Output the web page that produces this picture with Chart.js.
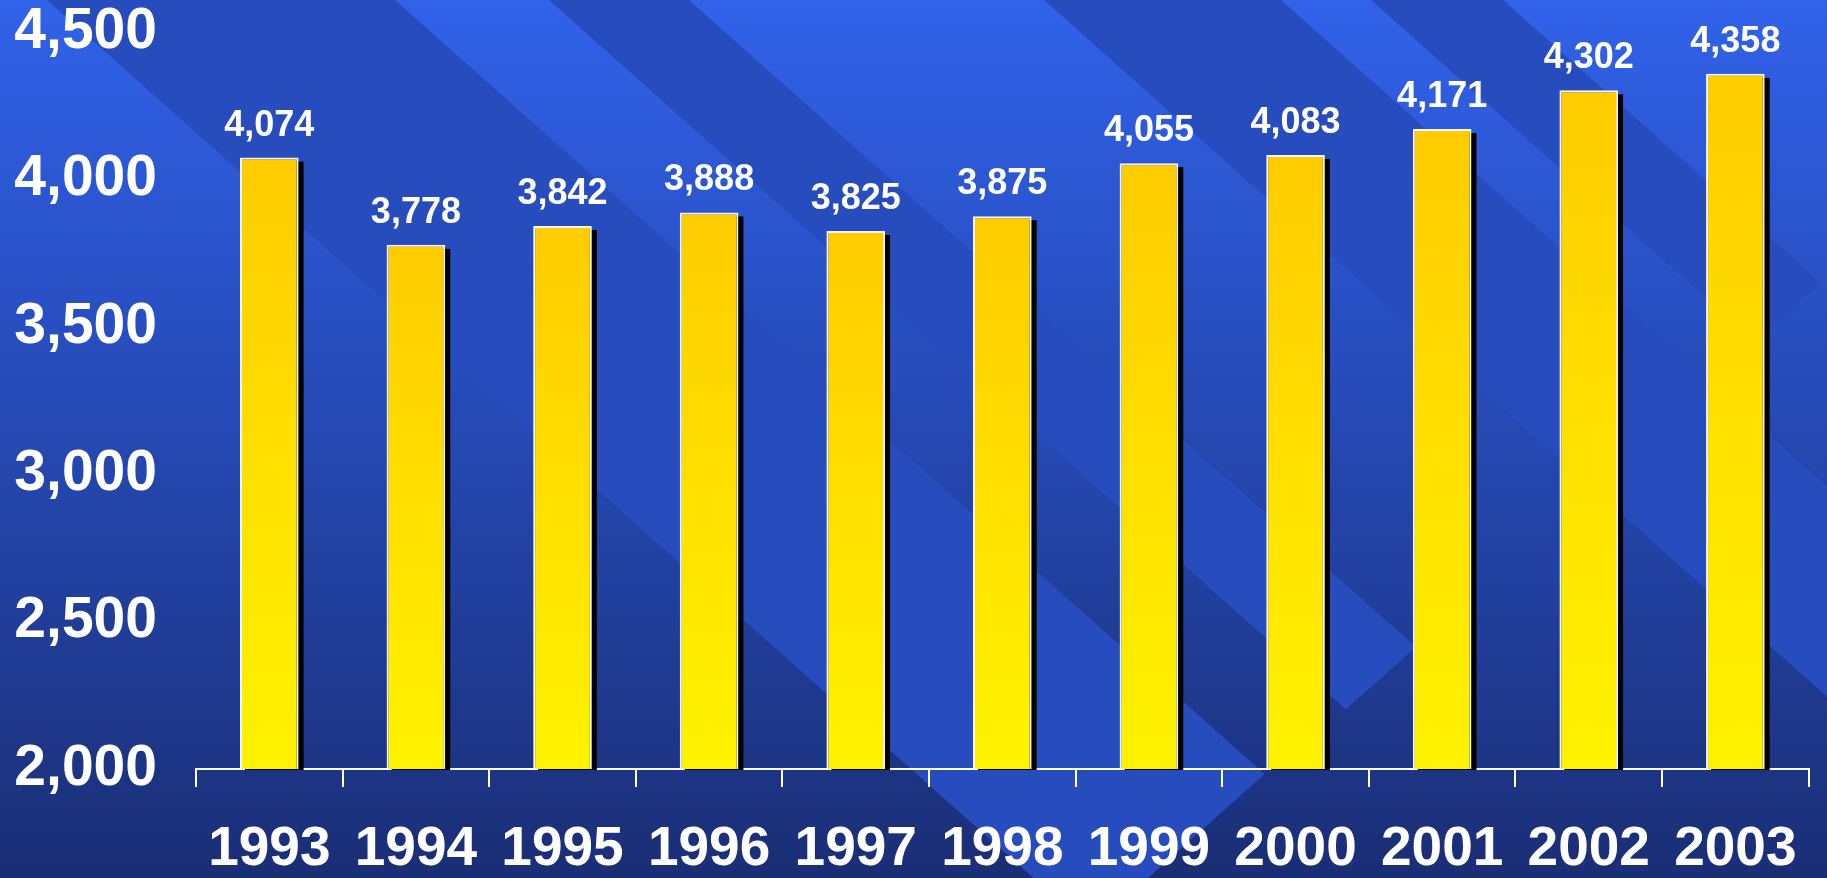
<!DOCTYPE html>
<html>
<head>
<meta charset="utf-8">
<script src="https://cdn.jsdelivr.net/npm/chart.js@4"></script>
<style>
  html, body { margin: 0; padding: 0; background: #1a2e76; }
  #wrap { width: 1827px; height: 878px; }
</style>
</head>
<body>
<div id="wrap"><canvas id="c" width="1827" height="878"></canvas></div>
<script>
const years = ['1993','1994','1995','1996','1997','1998','1999','2000','2001','2002','2003'];
const values = [4074, 3778, 3842, 3888, 3825, 3875, 4055, 4083, 4171, 4302, 4358];
const yMin = 2000;
const yMax = 4500;
const yStep = 500;

const FONT = 'Liberation Sans, Arial, Helvetica, sans-serif';

// Decorative background: vertical gradient with diagonal chevron bands
const bgPlugin = {
  id: 'bg',
  beforeDraw(chart) {
    const c = chart.ctx, W = chart.width, H = chart.height;
    c.save();
    const g = c.createLinearGradient(0, 0, 0, H);
    g.addColorStop(0, '#3162ea');
    g.addColorStop(0.5, '#2548b2');
    g.addColorStop(1, '#1a2e75');
    c.fillStyle = g;
    c.fillRect(0, 0, W, H);
    const m = 0.89;
    const bands = [
      {a: 47, b: 395, ty: 774},
      {a: 549, b: 689, ty: 647},
      {a: 1044, b: 1281, ty: 3000},
      {a: 1371, b: 1503, ty: 283}
    ];
    c.fillStyle = '#274cbe';
    bands.forEach(bd => {
      const y0 = -20;
      const tx = bd.b + bd.ty / m;
      const lx = (bd.a + bd.ty / m + tx) / 2;
      const ly = bd.ty - m * (lx - tx);
      c.beginPath();
      c.moveTo(bd.a + y0 / m, y0);
      c.lineTo(bd.b + y0 / m, y0);
      c.lineTo(tx, bd.ty);
      c.lineTo(lx, ly);
      c.closePath();
      c.fill();
    });
    c.restore();
  }
};

// Bar drop shadows
const shadowPlugin = {
  id: 'barShadow',
  beforeDatasetsDraw(chart) {
    const c = chart.ctx;
    const meta = chart.getDatasetMeta(0);
    const bottom = chart.scales.y.getPixelForValue(yMin);
    c.save();
    c.fillStyle = '#000000';
    meta.data.forEach(bar => {
      const p = bar.getProps(['x', 'y', 'width'], true);
      c.fillRect(p.x - p.width / 2 + 5, p.y + 4, p.width, bottom - p.y - 3);
    });
    c.restore();
  }
};

// Value labels above bars
const valueLabelPlugin = {
  id: 'valueLabels',
  afterDatasetsDraw(chart) {
    const c = chart.ctx;
    const meta = chart.getDatasetMeta(0);
    const ds = chart.data.datasets[0].data;
    c.save();
    c.fillStyle = '#ffffff';
    c.font = 'bold 36px ' + FONT;
    c.textAlign = 'center';
    c.textBaseline = 'alphabetic';
    meta.data.forEach((bar, i) => {
      const p = bar.getProps(['x', 'y'], true);
      c.fillText(ds[i].toLocaleString('en-US'), p.x, p.y - 22);
    });
    c.restore();
  }
};

new Chart(document.getElementById('c'), {
  type: 'bar',
  data: {
    labels: years,
    datasets: [{
      data: values,
      backgroundColor: (ctx) => {
        const chart = ctx.chart;
        if (!chart.chartArea || ctx.type !== 'data') return '#ffd800';
        const ys = chart.scales.y;
        const top = ys.getPixelForValue(ctx.raw);
        const bottom = ys.getPixelForValue(yMin);
        const g = chart.ctx.createLinearGradient(0, top, 0, bottom);
        g.addColorStop(0, '#ffcc00');
        g.addColorStop(1, '#fff300');
        return g;
      },
      borderColor: '#f4f4f4',
      borderWidth: 2,
      borderSkipped: 'bottom',
      categoryPercentage: 1.0,
      barPercentage: 0.40
    }]
  },
  options: {
    responsive: false,
    devicePixelRatio: 1,
    animation: false,
    layout: { padding: { left: 0, right: 10, top: 32, bottom: 0 } },
    plugins: {
      legend: { display: false },
      tooltip: { enabled: false },
      title: { display: false }
    },
    scales: {
      x: {
        grid: {
          display: true,
          drawOnChartArea: false,
          drawTicks: true,
          tickLength: 18,
          color: '#ffffff',
          lineWidth: 2,
          offset: true
        },
        border: { display: true, color: '#ffffff', width: 2 },
        ticks: {
          color: '#ffffff',
          font: { family: FONT, size: 55, weight: 'bold', lineHeight: 1.2 },
          padding: 30,
          maxRotation: 0,
          autoSkip: false
        },
        afterFit(scale) { scale.height = 109; scale.paddingTop = 0; }
      },
      y: {
        min: yMin,
        max: yMax,
        grid: { display: false, drawTicks: false },
        border: { display: false },
        ticks: {
          stepSize: yStep,
          color: '#ffffff',
          font: { family: FONT, size: 57, weight: 'bold', lineHeight: 1.1 },
          padding: 39
        },
        afterFit(scale) { scale.width = 196; scale.paddingTop = 0; scale.paddingBottom = 0; }
      }
    }
  },
  plugins: [bgPlugin, shadowPlugin, valueLabelPlugin]
});
</script>
</body>
</html>
